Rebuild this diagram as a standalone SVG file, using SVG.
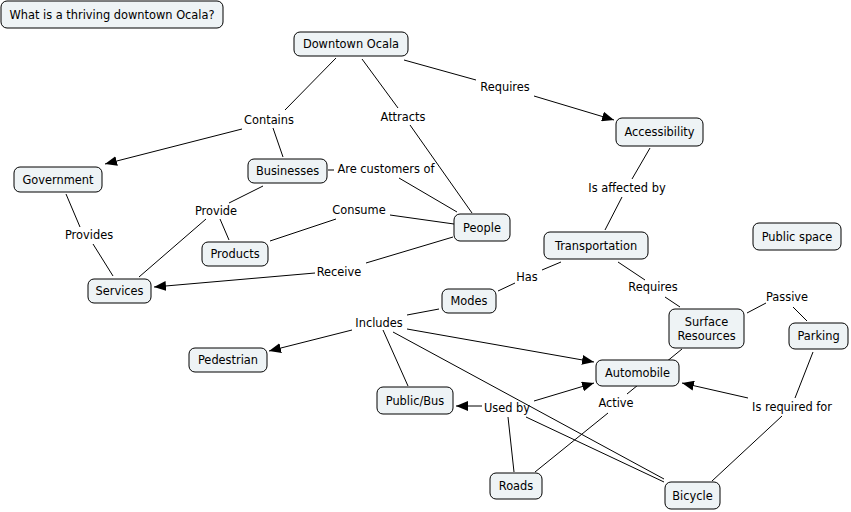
<svg xmlns="http://www.w3.org/2000/svg" width="851" height="512" viewBox="0 0 851 512">
<defs>
<style>
.n rect{fill:#eef3f5;stroke:#000;stroke-width:1}
text{font-family:"DejaVu Sans","Liberation Sans",sans-serif;font-size:11.4px;fill:#000;text-anchor:middle}
.c line{stroke:#000;stroke-width:1}
</style>
<marker id="arr" viewBox="0 0 12 10" refX="12" refY="5" markerWidth="12" markerHeight="10" orient="auto" markerUnits="userSpaceOnUse"><path d="M0,0 L12,5 L0,10 z" fill="#000"/></marker>
</defs>
<rect width="851" height="512" fill="#fff"/>
<g class="c" id="connectors">
<line x1="336" y1="58" x2="285" y2="110"/>
<line x1="242" y1="129" x2="105" y2="164" marker-end="url(#arr)"/>
<line x1="273" y1="128" x2="283" y2="157"/>
<line x1="362" y1="59" x2="398" y2="108"/>
<line x1="410" y1="125" x2="472" y2="213"/>
<line x1="404" y1="60" x2="476" y2="80"/>
<line x1="534" y1="96" x2="614" y2="120" marker-end="url(#arr)"/>
<line x1="650" y1="148" x2="632" y2="179"/>
<line x1="622" y1="197" x2="605" y2="230"/>
<line x1="328" y1="170" x2="334" y2="170"/>
<line x1="399" y1="178" x2="457" y2="212"/>
<line x1="263" y1="186" x2="229" y2="203"/>
<line x1="220" y1="219" x2="229" y2="240"/>
<line x1="206" y1="219" x2="139" y2="277"/>
<line x1="66" y1="194" x2="80" y2="227"/>
<line x1="93" y1="244" x2="113" y2="276"/>
<line x1="454" y1="224" x2="390" y2="215"/>
<line x1="336" y1="219" x2="270" y2="241"/>
<line x1="453" y1="237" x2="366" y2="263"/>
<line x1="315" y1="273" x2="154" y2="287" marker-end="url(#arr)"/>
<line x1="561" y1="262" x2="542" y2="270"/>
<line x1="515" y1="283" x2="498" y2="291"/>
<line x1="618" y1="262" x2="645" y2="280"/>
<line x1="665" y1="297" x2="680" y2="307"/>
<line x1="747" y1="313" x2="766" y2="303"/>
<line x1="793" y1="307" x2="807" y2="321"/>
<line x1="682" y1="349" x2="627" y2="394"/>
<line x1="608" y1="413" x2="535" y2="472"/>
<line x1="813" y1="352" x2="795" y2="398"/>
<line x1="748" y1="398" x2="682" y2="383" marker-end="url(#arr)"/>
<line x1="782" y1="416" x2="712" y2="481"/>
<line x1="439" y1="309" x2="407" y2="315"/>
<line x1="352" y1="330" x2="269" y2="351" marker-end="url(#arr)"/>
<line x1="383" y1="330" x2="408" y2="386"/>
<line x1="407" y1="329" x2="594" y2="362" marker-end="url(#arr)"/>
<line x1="393" y1="332" x2="664" y2="479"/>
<line x1="514" y1="472" x2="508" y2="417"/>
<line x1="482" y1="406" x2="456" y2="406" marker-end="url(#arr)"/>
<line x1="534" y1="401" x2="594" y2="383" marker-end="url(#arr)"/>
<line x1="526" y1="417" x2="664" y2="482"/>
</g>
<g id="labels">
<text x="269" y="124">Contains</text>
<text x="403" y="121">Attracts</text>
<text x="505" y="91">Requires</text>
<text x="627" y="192">Is affected by</text>
<text x="386" y="173">Are customers of</text>
<text x="216" y="215">Provide</text>
<text x="89" y="239">Provides</text>
<text x="359" y="214">Consume</text>
<text x="339" y="276">Receive</text>
<text x="527" y="281">Has</text>
<text x="653" y="291">Requires</text>
<text x="787" y="301">Passive</text>
<text x="379" y="327">Includes</text>
<text x="507" y="412">Used by</text>
<text x="616" y="407">Active</text>
<text x="792" y="411">Is required for</text>
</g>
<g id="n-question" class="n"><rect x="1" y="1" width="222" height="27" rx="6"/><text x="112" y="19">What is a thriving downtown Ocala?</text></g>
<g id="n-downtown" class="n"><rect x="294" y="32" width="114" height="24" rx="6"/><text x="351" y="48">Downtown Ocala</text></g>
<g id="n-accessibility" class="n"><rect x="616" y="118" width="87" height="28" rx="6"/><text x="659.5" y="136">Accessibility</text></g>
<g id="n-government" class="n"><rect x="14" y="167" width="88" height="25" rx="6"/><text x="58" y="183.5">Government</text></g>
<g id="n-businesses" class="n"><rect x="248" y="159" width="79" height="24" rx="6"/><text x="287.5" y="175">Businesses</text></g>
<g id="n-products" class="n"><rect x="202" y="242" width="66" height="24" rx="6"/><text x="235" y="258">Products</text></g>
<g id="n-services" class="n"><rect x="88" y="279" width="63" height="24" rx="6"/><text x="119.5" y="295">Services</text></g>
<g id="n-people" class="n"><rect x="454" y="214" width="56" height="27" rx="6"/><text x="482" y="231.5">People</text></g>
<g id="n-transportation" class="n"><rect x="544" y="232" width="104" height="27" rx="6"/><text x="596" y="249.5">Transportation</text></g>
<g id="n-publicspace" class="n"><rect x="753" y="223" width="88" height="27" rx="6"/><text x="797" y="240.5">Public space</text></g>
<g id="n-modes" class="n"><rect x="442" y="289" width="54" height="24" rx="6"/><text x="469" y="305">Modes</text></g>
<g id="n-surface" class="n"><rect x="669" y="309" width="75" height="39" rx="6"/><text x="706.5" y="326">Surface</text><text x="706.5" y="340">Resources</text></g>
<g id="n-parking" class="n"><rect x="789" y="323" width="59" height="26" rx="6"/><text x="818.5" y="340">Parking</text></g>
<g id="n-automobile" class="n"><rect x="596" y="360" width="83" height="26" rx="6"/><text x="637.5" y="377">Automobile</text></g>
<g id="n-pedestrian" class="n"><rect x="189" y="348" width="78" height="24" rx="6"/><text x="228" y="364">Pedestrian</text></g>
<g id="n-publicbus" class="n"><rect x="377" y="387" width="76" height="27" rx="6"/><text x="415" y="404.5">Public/Bus</text></g>
<g id="n-roads" class="n"><rect x="490" y="473" width="52" height="26" rx="6"/><text x="516" y="490">Roads</text></g>
<g id="n-bicycle" class="n"><rect x="665" y="482" width="55" height="27" rx="6"/><text x="692.5" y="499.5">Bicycle</text></g>
</svg>
